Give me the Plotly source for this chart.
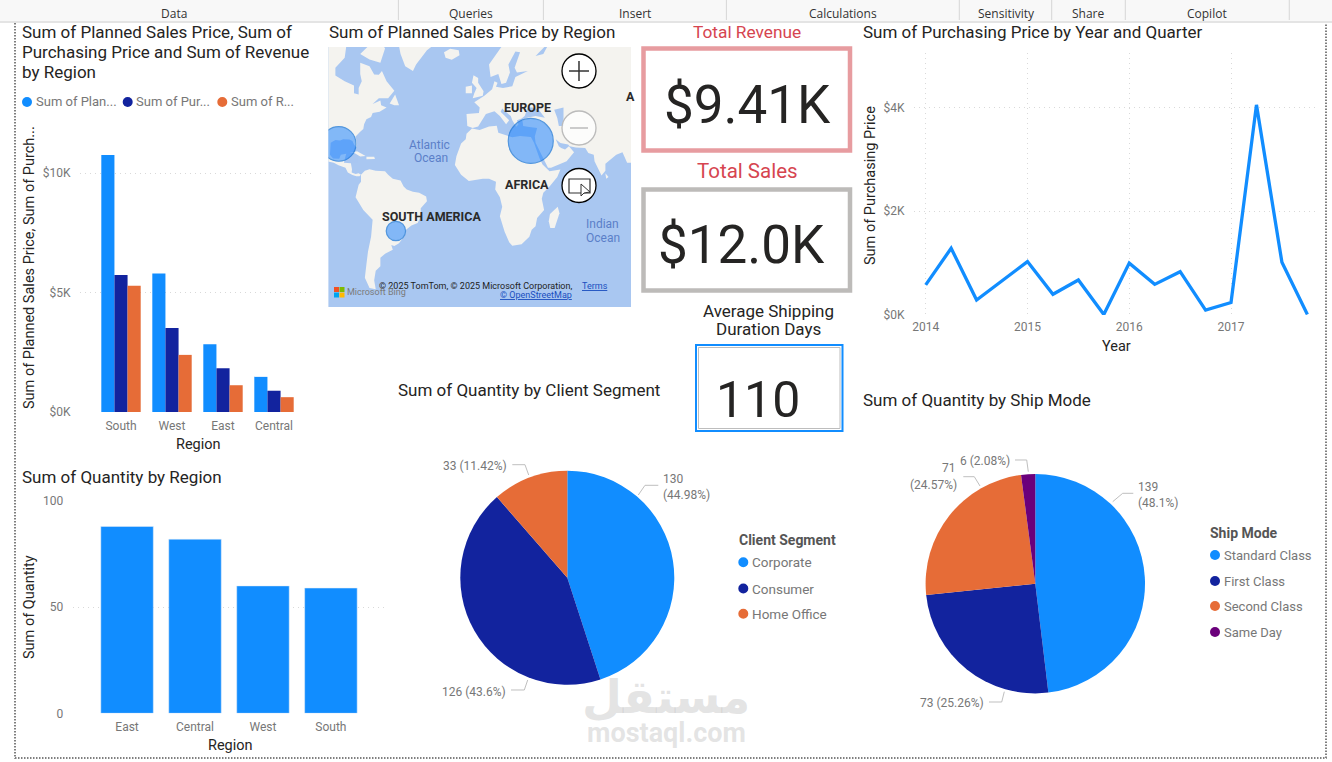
import math
import plotly.graph_objects as go

W, H = 1332, 762
FONT = 'Roboto'
BLUE, NAVY, ORANGE, PURPLE = '#118DFF', '#12239E', '#E66C37', '#6B007B'
GRID = '#D9D9D9'
DARK = '#252423'
GREY = '#777777'

# clustered bars
regions = ['South', 'West', 'East', 'Central']
planned_sales = [10750, 5800, 2840, 1470]
purchasing = [5730, 3510, 1830, 890]
revenue = [5280, 2390, 1120, 620]
money_ticks = [0, 5000, 10000]
money_labels = ['$0K', '$5K', '$10K']
short_names = ['Sum of Plan...', 'Sum of Pur...', 'Sum of R...']

# purchasing line
quarters = [2014, 2014.25, 2014.5, 2014.75, 2015, 2015.25, 2015.5, 2015.75,
            2016, 2016.25, 2016.5, 2016.75, 2017, 2017.25, 2017.5, 2017.75]
purchasing_by_quarter = [580, 1286, 290, 660, 1030, 400, 675, 10,
                         1000, 590, 835, 95, 240, 4050, 1015, 12]
years = [2014, 2015, 2016, 2017]
line_ticks = [0, 2000, 4000]
line_labels = ['$0K', '$2K', '$4K']

# quantity bars
quantity_regions = ['East', 'Central', 'West', 'South']
quantity = [88, 82, 60, 59]
quantity_ticks = [0, 50, 100]

# pies
segments = ['Corporate', 'Consumer', 'Home Office']
segment_quantity = [130, 126, 33]
ship_modes = ['Standard Class', 'First Class', 'Second Class', 'Same Day']
ship_quantity = [139, 73, 71, 6]

# KPI cards
total_revenue = '$9.41K'
total_sales = '$12.0K'
avg_shipping_days = '110'

# map bubbles
bubble_lon = [-91.9, 31.9, -55]
bubble_lat = [27.3, 29, -26.7]
bubble_value = [6400, 10800, 2000]

# simplified coastlines, (lon, lat)
north_america = [(-130, 75), (-95, 75), (-85, 72), (-82, 69), (-87, 67), (-88, 64), (-94, 61), (-94, 58.5),
                 (-88, 56.5), (-82, 55), (-82, 52), (-79, 51.5), (-79, 54), (-77, 56.5), (-78, 59), (-78, 62.5),
                 (-72, 61.5), (-69, 58.8), (-66, 58.7), (-64, 60), (-61, 56.5), (-56, 53), (-60, 50), (-66, 50),
                 (-70, 47.5), (-65, 49), (-64.5, 47), (-61, 46), (-65.5, 44), (-70, 43.5), (-71, 41.5), (-74, 40.5),
                 (-75.5, 38), (-76, 35.5), (-78, 34), (-81, 31.5), (-80, 27), (-80.5, 25.2), (-82, 27), (-83, 29),
                 (-85, 29.8), (-89, 30), (-91, 29.3), (-94, 29.5), (-97, 28), (-97.5, 24), (-97.5, 21), (-95.5, 18.7),
                 (-91.5, 18.5), (-90.5, 21), (-87, 21.5), (-88, 18), (-88.5, 16), (-84, 15.8), (-83.3, 12), (-83.5, 10),
                 (-81, 9), (-79, 9.5), (-77.5, 8.5), (-78.5, 7.5), (-80.5, 7.5), (-83, 8.3), (-86, 10), (-87.5, 13),
                 (-92, 14.5), (-95, 16), (-100, 17), (-105, 20), (-106, 23), (-110, 27), (-117, 33), (-122, 37),
                 (-125, 43), (-125, 50), (-135, 58), (-150, 60), (-165, 65)]
baffin = [(-80, 73), (-70, 71), (-62, 66.5), (-65, 62.5), (-72, 63.5), (-78, 65), (-73, 67), (-80, 70)]
newfoundland = [(-59, 47.7), (-55.5, 51.5), (-53, 47), (-56, 47)]
greenland = [(-55, 82), (-20, 82), (-20, 72), (-25, 69), (-35, 66), (-42, 62), (-44, 60), (-49, 61.5),
             (-52, 65), (-54, 69), (-60, 76), (-70, 78)]
iceland = [(-24, 65.5), (-20, 66.4), (-14.5, 66), (-14, 64.7), (-19, 63.4), (-23, 64)]
cuba = [(-85, 22), (-80, 23), (-74.5, 20.2), (-78, 19.9), (-82, 22.2)]
hispaniola = [(-74, 19.7), (-69, 19.7), (-68.5, 18.4), (-74, 18.2)]
south_america = [(-77.5, 8.5), (-75, 11), (-72, 12), (-68, 11), (-62, 10.7), (-60, 8.5), (-57, 6), (-52, 4.8),
                 (-50, 1), (-48, -1), (-44, -2.5), (-40, -3), (-35.5, -5.5), (-35, -8.5), (-39, -13), (-39, -18),
                 (-41, -22), (-45, -23.5), (-48.5, -26), (-49, -29), (-53, -33.5), (-56, -35), (-58, -34.5), (-57, -37),
                 (-62, -39), (-65, -41), (-65, -45), (-68, -47), (-69, -51), (-68, -54.5), (-72, -54), (-75, -50),
                 (-74, -44), (-73, -38), (-71, -30), (-70, -20), (-76, -14), (-81, -6), (-80, -2), (-79, 2), (-77.5, 4)]
africa = [(-6, 35.8), (-1, 35), (5, 36.8), (10, 37.2), (11, 33.5), (15, 32.3), (20, 31), (25, 31.8), (32, 31.2),
          (34, 28), (35.5, 24), (37.5, 19), (39.5, 15), (43, 12), (44, 10.7), (51, 11.8), (49, 7), (44, 1), (40, -3),
          (39, -7), (40.5, -14), (36, -19), (35, -24), (32.5, -26), (31, -30), (26, -34), (20, -34.8), (18, -33),
          (15, -27), (12, -18), (13.5, -12), (12, -6), (9, -1), (9.5, 4), (5, 6), (1, 6), (-4, 5), (-8, 4.5),
          (-13, 8.5), (-17, 14.7), (-16, 20), (-13, 27.5), (-10, 30), (-9.5, 33)]
madagascar = [(49.3, -12), (50.4, -16), (47.3, -25), (44.5, -25), (43.5, -21), (44.3, -16.5)]
eurasia = [(-9, 37), (-9.5, 43), (-1.5, 43.5), (-1, 46), (-4.5, 48.3), (2, 51), (7, 53.5), (8.5, 56.5), (10.5, 56),
           (9.5, 54.5), (14, 54), (20, 54.7), (22, 58), (30, 60), (23, 59.5), (21.5, 61), (25, 65.5), (22, 65.7),
           (17.5, 62), (18.5, 59.5), (16, 56), (13, 55.5), (11, 59), (6, 58), (5, 62), (14, 67.5), (20, 70.5), (30, 71),
           (41, 67), (35, 64.5), (40, 65), (44, 68), (60, 69), (70, 73), (110, 77), (110, 20), (100, 13), (98, 8),
           (98.5, 16), (94, 16), (91, 22.5), (87, 21), (80, 15.5), (80, 11), (77.5, 8), (73, 17), (72.5, 21), (69, 22),
           (67, 25), (61, 25.2), (57, 26), (56, 27), (51, 27.8), (48, 30), (50, 26), (51.5, 25), (54, 24), (56.5, 26),
           (59.8, 22.5), (55, 17), (45, 13), (43, 13), (39, 21), (35, 28), (34.5, 31.5), (36, 36), (31, 36.5), (27, 37),
           (26.5, 40), (29, 41), (35, 42), (41, 41.2), (37, 45), (33, 46), (30, 46), (28, 42), (26, 40.8), (23, 40),
           (24, 37.8), (22.5, 36.7), (20, 40), (19, 42), (13.5, 45.5), (12.5, 44), (18, 40), (16, 38), (12, 42),
           (8.5, 44.3), (3, 43), (0, 39.5), (-2, 36.8), (-5.5, 36)]
britain = [(-5.5, 50), (1, 51), (1.5, 52.8), (-2, 56), (-2, 57.6), (-5, 58.6), (-6, 56), (-3, 54), (-4.5, 52)]
ireland = [(-10, 52), (-6, 52), (-6, 55), (-10, 54.5)]
sri_lanka = [(80, 9.5), (82, 7), (80.5, 6)]
caspian = [(47, 45), (53, 46), (53, 37), (50, 37), (49, 41)]
land = [north_america, baffin, newfoundland, greenland, iceland, cuba, hispaniola, south_america,
        africa, madagascar, eurasia, britain, ireland, sri_lanka]

LAND_COLOR = '#F4F3EF'
SEA_COLOR = '#A9C7F1'


def px(x):
    return x / W


def py(y):
    return 1 - y / H


def merc(lat):
    return math.asinh(math.tan(math.radians(lat)))


annotations = []
shapes = []


def text(x, y, s, size=12, color=GREY, anchor='left', font=FONT, bold=False, angle=0, vanchor='middle'):
    annotations.append(dict(
        x=px(x), y=py(y), xref='paper', yref='paper', text=f'<b>{s}</b>' if bold else s,
        showarrow=False, xanchor=anchor, yanchor=vanchor, textangle=angle, borderpad=0,
        font=dict(family=font, size=size, color=color)))


def rect(x0, y0, x1, y1, line=None, width=0, fill=None, layer='above', dash=None):
    shapes.append(dict(
        type='rect', xref='paper', yref='paper', x0=px(x0), x1=px(x1), y0=py(y0), y1=py(y1), layer=layer,
        fillcolor=fill, line=dict(color=line, width=width, dash=dash)))


def seg(points, color='#BFBFBF', width=1, dash=None, layer='above'):
    path = 'M' + ' L'.join(f'{px(a):.5f},{py(b):.5f}' for a, b in points)
    shapes.append(dict(type='path', xref='paper', yref='paper', path=path, layer=layer,
                       line=dict(color=color, width=width, dash=dash)))


def dot(x, y, r, color, line=None, width=0):
    shapes.append(dict(type='circle', xref='paper', yref='paper', x0=px(x - r), x1=px(x + r),
                       y0=py(y + r), y1=py(y - r), fillcolor=color,
                       line=dict(color=line, width=width)))


def pct_label(v, values):
    return f'{round(v / sum(values) * 100, 2):g}%'


fig = go.Figure()

# clustered bars
for name, vals, color in zip(['Sum of Planned Sales Price', 'Sum of Purchasing Price', 'Sum of Revenue'],
                             [planned_sales, purchasing, revenue], [BLUE, NAVY, ORANGE]):
    fig.add_trace(go.Bar(name=name, x=regions, y=vals, marker=dict(color=color, line=dict(color=color, width=0)),
                         xaxis='x', yaxis='y'))

# map
for shape in land:
    lons = [p[0] for p in shape] + [shape[0][0]]
    lats = [merc(p[1]) for p in shape] + [merc(shape[0][1])]
    fig.add_trace(go.Scatter(x=lons, y=lats, mode='lines', fill='toself', fillcolor=LAND_COLOR,
                             line=dict(width=0, color=LAND_COLOR), hoverinfo='skip', xaxis='x2', yaxis='y2'))
fig.add_trace(go.Scatter(x=[p[0] for p in caspian], y=[merc(p[1]) for p in caspian], mode='lines', fill='toself',
                         fillcolor=SEA_COLOR, line=dict(width=0, color=SEA_COLOR), hoverinfo='skip',
                         xaxis='x2', yaxis='y2'))
fig.add_trace(go.Scatter(
    x=bubble_lon, y=[merc(v) for v in bubble_lat], mode='markers', xaxis='x2', yaxis='y2',
    marker=dict(size=bubble_value, sizemode='area', sizeref=2 * 10800 / 45 ** 2, color='rgba(25,130,255,0.74)',
                line=dict(color='#0F6FD6', width=1.2))))

# line
fig.add_trace(go.Scatter(x=quarters, y=purchasing_by_quarter, mode='lines', xaxis='x3', yaxis='y3',
                         line=dict(color=BLUE, width=3.3, shape='linear')))

# quantity bars
fig.add_trace(go.Bar(x=quantity_regions, y=quantity, marker_color=BLUE, xaxis='x4', yaxis='y4'))

# pies
fig.add_trace(go.Pie(labels=segments, values=segment_quantity, sort=False, direction='clockwise', rotation=0,
                     textinfo='none', marker=dict(colors=[BLUE, NAVY, ORANGE], line=dict(width=0)),
                     domain=dict(x=[px(460.3), px(674.3)], y=[py(684.7), py(470.7)])))
fig.add_trace(go.Pie(labels=ship_modes, values=ship_quantity, sort=False, direction='clockwise', rotation=0,
                     textinfo='none', marker=dict(colors=[BLUE, NAVY, ORANGE, PURPLE], line=dict(width=0)),
                     domain=dict(x=[px(925.6), px(1145)], y=[py(693.4), py(474)])))

# toolbar and page frame
rect(0, 0, W, 21, fill='#F8F8F8')
seg([(0, 22), (W, 22)], color='#E4E4E4', width=2)
for x in [398.4, 543.4, 726.4, 959.3, 1051.7, 1125.3, 1289.3]:
    seg([(x, 0), (x, 20)], color='#D6D6D6')
for x, label in [(174, 'Data'), (471, 'Queries'), (635, 'Insert'), (843, 'Calculations'),
                 (1006, 'Sensitivity'), (1088, 'Share'), (1207, 'Copilot')]:
    text(x, 13.5, label, size=12, color='#333333', anchor='center', font='Open Sans')
seg([(15, 23), (15, 758), (1326, 758), (1326, 23)], color='#555555', width=1.5, dash='1.5px,1.5px')

# titles
text(20.5, 32, 'Sum of Planned Sales Price, Sum of', size=17, color=DARK)
text(20.5, 52, 'Purchasing Price and Sum of Revenue', size=17, color=DARK)
text(20.5, 72, 'by Region', size=17, color=DARK)
text(328, 32, 'Sum of Planned Sales Price by Region', size=17, color=DARK)
text(862, 32, 'Sum of Purchasing Price by Year and Quarter', size=17, color=DARK)
text(20.5, 477, 'Sum of Quantity by Region', size=17, color=DARK)
text(397, 389.5, 'Sum of Quantity by Client Segment', size=17, color=DARK)
text(862, 400, 'Sum of Quantity by Ship Mode', size=17, color=DARK)
text(747, 32, 'Total Revenue', size=17.3, color='#D64550', anchor='center')
text(747, 171, 'Total Sales', size=20.5, color='#D64550', anchor='center')
text(769, 311, 'Average Shipping', size=17, color=DARK, anchor='center')
text(769, 329, 'Duration Days', size=17, color=DARK, anchor='center')

# chart 1 legend and axis titles
for x, tx, label, color in zip([27, 127.7, 222.3], [34.7, 135.3, 230.3], short_names, [BLUE, NAVY, ORANGE]):
    dot(x, 102, 5, color)
    text(tx, 102, label, size=13, color=GREY)
text(29, 268, 'Sum of Planned Sales Price, Sum of Purch...', size=14.5, color=DARK, anchor='center', angle=-90)
text(198, 444.5, 'Region', size=14.5, color=DARK, anchor='center')
text(870, 186, 'Sum of Purchasing Price', size=14.5, color=DARK, anchor='center', angle=-90)
text(1116, 346, 'Year', size=14.5, color=DARK, anchor='center')
text(29, 607, 'Sum of Quantity', size=14.5, color=DARK, anchor='center', angle=-90)
text(230, 745.5, 'Region', size=14.5, color=DARK, anchor='center')

# map background and decorations
rect(328.4, 47, 631, 307, fill=SEA_COLOR, layer='below')
for x, y, label in [(527, 107, 'EUROPE'), (527, 184.7, 'AFRICA'), (431, 217, 'SOUTH AMERICA')]:
    text(x, y, label, size=12.5, color='#2A2A2A', anchor='center', bold=True)
text(625, 96.7, 'A', size=12.5, color='#2A2A2A', bold=True)
for x, y, label in [(429, 144.7, 'Atlantic'), (431, 158, 'Ocean'), (602, 223.7, 'Indian'), (603, 237.7, 'Ocean')]:
    text(x, y, label, size=12, color='#5B7FC8', anchor='center')
dot(579, 71, 17, 'white', line='black', width=1.3)
seg([(569, 71), (589, 71)], color='#333333', width=1.5)
seg([(579, 61), (579, 81)], color='#333333', width=1.5)
dot(579, 128, 17, 'rgba(255,255,255,0.75)', line='#BBBBBB', width=1.3)
seg([(570, 128), (588, 128)], color='#BBBBBB', width=1.5)
dot(579, 185.5, 17, 'white', line='black', width=1.3)
rect(569, 179, 590, 193, line='#333333', width=1.2)
shapes.append(dict(type='path', xref='paper', yref='paper', fillcolor='white', line=dict(color='#333333', width=1),
                   path=f'M{px(581):.5f},{py(184):.5f} L{px(581):.5f},{py(196):.5f} L{px(584):.5f},{py(193):.5f} '
                        f'L{px(590):.5f},{py(192):.5f} Z'))
text(378, 285.7, '© 2025 TomTom, © 2025 Microsoft Corporation,', size=9, color='#222222')
text(581, 286, '<u>Terms</u>', size=9, color='#1A4FBF')
text(499, 295, '<u>© OpenStreetMap</u>', size=9, color='#1A4FBF')
for x, y, color in [(334, 287, '#F25022'), (339.5, 287, '#7FBA00'), (334, 292.5, '#00A4EF'), (339.5, 292.5, '#FFB900')]:
    rect(x, y, x + 5, y + 5, fill=color)
text(346, 292, 'Microsoft Bing', size=9, color='#7A7A7A')

# KPI cards
rect(643.5, 48.5, 850, 150.5, line='#E79CA0', width=4.5)
text(747, 105, total_revenue, size=53, color=DARK, anchor='center')
rect(643.5, 189.5, 850, 290.5, line='#BDBBB9', width=4.5)
text(741.6, 245, total_sales, size=53, color=DARK, anchor='center')
rect(696, 345, 842.5, 431, line=BLUE, width=2)
rect(698.5, 347.5, 840, 428.5, line='#BDBDBD', width=1)
text(757.7, 400, avg_shipping_days, size=50, color=DARK, anchor='center')

# pie labels
text(662.3, 479, str(segment_quantity[0]), size=12)
text(662.3, 495, f'({pct_label(segment_quantity[0], segment_quantity)})', size=12)
seg([(638.3, 495), (645, 485.3), (658.3, 485.3)])
text(508.3, 465.7, f'{segment_quantity[2]} ({pct_label(segment_quantity[2], segment_quantity)})', size=12, anchor='right')
seg([(512.3, 464.7), (525, 464.7), (528.7, 475)])
text(507, 691.7, f'{segment_quantity[1]} ({pct_label(segment_quantity[1], segment_quantity)})', size=12, anchor='right')
seg([(511, 690), (524.3, 690), (527.7, 680)])

text(1137, 486.7, str(ship_quantity[0]), size=12)
text(1137, 503, f'({pct_label(ship_quantity[0], ship_quantity)})', size=12)
seg([(1112.7, 501.7), (1122.7, 493.3), (1133.3, 493.3)])
text(957.3, 468.3, str(ship_quantity[2]), size=12, anchor='right')
text(958, 485, f'({pct_label(ship_quantity[2], ship_quantity)})', size=12, anchor='right')
seg([(963.3, 476.7), (974.3, 476.7), (980, 486)])
text(1011, 460.7, f'{ship_quantity[3]} ({pct_label(ship_quantity[3], ship_quantity)})', size=12, anchor='right')
seg([(1015, 460), (1026.7, 460), (1028.3, 471.7)])
text(985, 702.7, f'{ship_quantity[1]} ({pct_label(ship_quantity[1], ship_quantity)})', size=12, anchor='right')
seg([(989, 702), (1001.7, 702), (1004.3, 691.7)])

# pie legends
text(738, 540, 'Client Segment', size=14, color='#555555', bold=True)
for y, label, color in zip([562.3, 588.5, 613.7], segments, [BLUE, NAVY, ORANGE]):
    dot(743.3, y, 5, color)
    text(751, y, label, size=13.5)
text(1209.3, 533.3, 'Ship Mode', size=14, color='#555555', bold=True)
for y, label, color in zip([555, 581, 606, 632], ship_modes, [BLUE, NAVY, ORANGE, PURPLE]):
    dot(1215, y, 5, color)
    text(1222.5, y, label, size=13)

# watermark
text(665.5, 697, 'مستقل', size=46, color='rgba(190,190,190,0.42)', anchor='center', font='DejaVu Sans', bold=True)
text(666, 733, 'mostaql.com', size=27, color='rgba(190,190,190,0.42)', anchor='center', bold=True)

tick_font = dict(family=FONT, size=12, color=GREY)
grid = dict(showgrid=True, gridcolor=GRID, griddash='1px,4px', gridwidth=1, zeroline=False, showline=False)
hidden_tick = dict(ticks='outside', ticklen=6, tickcolor='rgba(0,0,0,0)')

fig.update_layout(
    width=W, height=H, margin=dict(l=0, r=0, t=0, b=0, autoexpand=False), paper_bgcolor='white',
    plot_bgcolor='rgba(0,0,0,0)',
    showlegend=False, barmode='group', bargap=0.2275, bargroupgap=0, font=dict(family=FONT),
    annotations=annotations, shapes=shapes,
    xaxis=dict(domain=[px(80), px(312)], type='category', range=[-0.804, 3.745], showgrid=False, zeroline=False,
               tickfont=tick_font, anchor='y', ticks='outside', ticklen=2.5, tickcolor='rgba(0,0,0,0)'),
    yaxis=dict(domain=[py(412), py(127)], range=[0, 11925], tickvals=money_ticks, ticktext=money_labels,
               tickfont=tick_font, anchor='x', **grid, **hidden_tick),
    xaxis2=dict(domain=[px(328.4), px(631)], range=[-98.5, 96.5], visible=False, anchor='y2'),
    yaxis2=dict(domain=[py(307), py(47)], range=[-1.339, 1.586], visible=False, anchor='x2'),
    xaxis3=dict(domain=[px(914), px(1315)], range=[2013.885, 2017.825], tickvals=years, ticktext=[str(y) for y in years],
                tickfont=tick_font, anchor='y3', ticks='outside', ticklen=0.5, tickcolor='rgba(0,0,0,0)', **grid),
    yaxis3=dict(domain=[py(315), py(53)], range=[0, 5050], tickvals=line_ticks, ticktext=line_labels,
                tickfont=tick_font, anchor='x3', **grid, **hidden_tick),
    xaxis4=dict(domain=[px(72.7), px(388)], type='category', range=[-0.8, 3.84], showgrid=False, zeroline=False,
                tickfont=tick_font, anchor='y4', ticks='outside', ticklen=2.5, tickcolor='rgba(0,0,0,0)'),
    yaxis4=dict(domain=[py(713.3), py(501)], range=[0, 100], tickvals=quantity_ticks, tickfont=tick_font,
                anchor='x4', **grid, **hidden_tick),
)

fig.write_html("out.html", config={'displayModeBar': False}, post_script="document.body.style.margin='0';")
